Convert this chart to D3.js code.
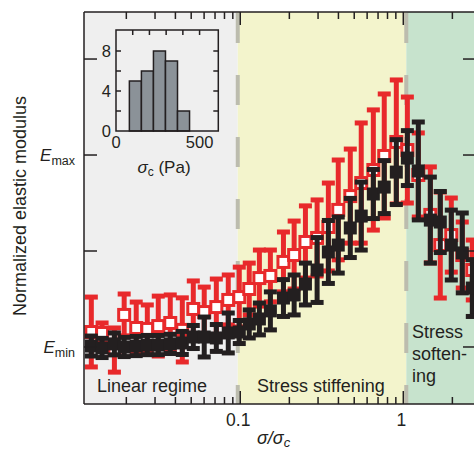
<!DOCTYPE html>
<html>
<head>
<meta charset="utf-8">
<script src="https://cdn.jsdelivr.net/npm/d3@7"></script>
<style>
  body { margin: 0; background: #ffffff; }
  text { font-family: "Liberation Sans", Arial, Helvetica, sans-serif; fill: #231f20; }
</style>
</head>
<body>
<svg id="chart" width="474" height="451"></svg>
<script>
// ---------------------------------------------------------------- data
var ratio = [0.0122, 0.0142, 0.0169, 0.0194, 0.0230, 0.0269, 0.0314, 0.0372, 0.0441, 0.0515, 0.0601, 0.0713,
  0.0844, 0.0986, 0.1135, 0.131, 0.153, 0.184, 0.214, 0.251, 0.296, 0.347, 0.399, 0.473, 0.552, 0.655, 0.764,
  0.906, 1.059, 1.236, 1.465, 1.686, 1.97, 2.30, 2.65];
var redMean = [0.078, 0.073, -0.016, 0.167, 0.099, 0.094, 0.109, 0.125, 0.089, 0.198, 0.182, 0.208, 0.245, 0.260,
  0.302, 0.359, 0.370, 0.443, 0.479, 0.547, 0.568, 0.625, 0.714, 0.786, 0.854, 0.922, 0.995, 1.068, 1.026, 0.896,
  0.688, 0.531, 0.583, 0.479, 0.401];
var redErr = [0.182, 0.052, 0.115, 0.109, 0.135, 0.125, 0.156, 0.146, 0.167, 0.146, 0.130, 0.146, 0.130, 0.156,
  0.135, 0.146, 0.135, 0.156, 0.177, 0.188, 0.198, 0.229, 0.260, 0.245, 0.313, 0.313, 0.323, 0.323, 0.276, 0.219,
  0.250, 0.276, 0.193, 0.172, 0.156];
var blackMean = [0.005, -0.005, 0.016, 0.000, 0.005, 0.010, 0.010, 0.016, 0.021, 0.052, 0.052, 0.047, 0.073, 0.078,
  0.120, 0.146, 0.188, 0.255, 0.271, 0.328, 0.401, 0.495, 0.531, 0.620, 0.682, 0.797, 0.833, 0.911, 0.984, 0.917,
  0.661, 0.651, 0.531, 0.490, 0.307];
var blackErr = [0.052, 0.050, 0.057, 0.050, 0.050, 0.050, 0.050, 0.050, 0.060, 0.060, 0.104, 0.070, 0.104, 0.060,
  0.073, 0.083, 0.099, 0.096, 0.104, 0.109, 0.169, 0.164, 0.146, 0.154, 0.177, 0.128, 0.138, 0.169, 0.143, 0.255,
  0.224, 0.159, 0.182, 0.208, 0.148];
var regionBounds = [0.011, 0.0965, 1.043, 3.5];
var regionColors = ["#efefef", "#f3f4cc", "#c7e3cd"];
var histEdges = [80, 152, 224, 296, 368, 440];
var histCounts = [5, 6, 8, 7, 2];
var yTickValues = [0, 0.5, 1, 1.5];

// ---------------------------------------------------------------- scales
var svg = d3.select("#chart");
var x = d3.scaleLog().domain([0.011, 3.5]).range([84, 492]);
var y = d3.scaleLinear().domain([-0.297, 1.745]).range([404, 12]);
var red = "#e8292b", black = "#231f20";
var rightEdge = 476; // the frame's right side lies just past the picture

// backgrounds of the three regimes
svg.selectAll(".region").data(d3.pairs(regionBounds)).join("rect").attr("class", "region")
  .attr("x", d => x(d[0])).attr("width", d => x(d[1]) - x(d[0]))
  .attr("y", y.range()[1]).attr("height", y.range()[0] - y.range()[1])
  .attr("fill", (d, i) => regionColors[i]);
// dashed dividers
svg.selectAll(".divider").data(regionBounds.slice(1, 3)).join("line").attr("class", "divider")
  .attr("x1", d => x(d)).attr("x2", d => x(d)).attr("y1", 13).attr("y2", 404)
  .attr("stroke", "#bcbcae").attr("stroke-width", 4).attr("stroke-dasharray", "30,32");

// ---------------------------------------------------------------- series
function drawSeries(mean, err, color, cls) {
  var g = svg.append("g").attr("class", cls);
  var pts = ratio.map((r, i) => ({ r: r, m: mean[i], e: err[i] }));
  g.selectAll(".bar").data(pts).join("line").attr("class", "bar")
    .attr("x1", d => x(d.r)).attr("x2", d => x(d.r))
    .attr("y1", d => y(d.m + d.e)).attr("y2", d => y(d.m - d.e))
    .attr("stroke", color).attr("stroke-width", 5);
  g.selectAll(".capTop").data(pts).join("rect").attr("class", "capTop")
    .attr("x", d => x(d.r) - 6.5).attr("width", 13).attr("y", d => y(d.m + d.e) - 2.5).attr("height", 5).attr("fill", color);
  g.selectAll(".capBot").data(pts).join("rect").attr("class", "capBot")
    .attr("x", d => x(d.r) - 6.5).attr("width", 13).attr("y", d => y(d.m - d.e) - 2.5).attr("height", 5).attr("fill", color);
  return { g: g, pts: pts };
}
var rs = drawSeries(redMean, redErr, red, "redSeries");
rs.g.selectAll(".sq").data(rs.pts).join("rect").attr("class", "sq")
  .attr("x", d => x(d.r) - 5.5).attr("y", d => y(d.m) - 5.5).attr("width", 11).attr("height", 11)
  .attr("fill", "#ffffff").attr("stroke", red).attr("stroke-width", 3);
var bs = drawSeries(blackMean, blackErr, black, "blackSeries");
bs.g.selectAll(".sq").data(bs.pts).join("rect").attr("class", "sq")
  .attr("x", d => x(d.r) - 6.5).attr("y", d => y(d.m) - 6.5).attr("width", 13).attr("height", 13).attr("fill", black);

// ---------------------------------------------------------------- frame and ticks
var frame = svg.append("g").attr("stroke", black).attr("stroke-width", 1.5);
frame.append("line").attr("x1", 84).attr("x2", rightEdge).attr("y1", 12).attr("y2", 12);
frame.append("line").attr("x1", 84).attr("x2", rightEdge).attr("y1", 404).attr("y2", 404);
frame.append("line").attr("x1", 84).attr("x2", 84).attr("y1", 12).attr("y2", 404);
var xt = x.ticks().filter(t => t > x.domain()[0] && x(t) < rightEdge);
var isMajor = t => Math.abs(Math.log10(t) - Math.round(Math.log10(t))) < 1e-6;
frame.selectAll(".tt").data(xt).join("line").attr("class", "tt")
  .attr("x1", d => x(d)).attr("x2", d => x(d)).attr("y1", 12).attr("y2", d => isMajor(d) ? 25 : 19);
frame.selectAll(".bt").data(xt).join("line").attr("class", "bt")
  .attr("x1", d => x(d)).attr("x2", d => x(d)).attr("y1", 404).attr("y2", d => isMajor(d) ? 391 : 397);
frame.selectAll(".lt").data(yTickValues).join("line").attr("class", "lt")
  .attr("x1", 84).attr("x2", 97).attr("y1", d => y(d)).attr("y2", d => y(d));
frame.selectAll(".rt").data(yTickValues).join("line").attr("class", "rt")
  .attr("x1", rightEdge).attr("x2", rightEdge - 13).attr("y1", d => y(d)).attr("y2", d => y(d));
svg.selectAll(".xl").data(xt.filter(isMajor)).join("text").attr("class", "xl")
  .attr("x", d => x(d) - 2).attr("y", 426).attr("text-anchor", "middle").attr("font-size", 17.5)
  .text(d => d3.format("~g")(d));

// E labels
[[1, "max"], [0, "min"]].forEach(function (p) {
  var t = svg.append("text").attr("x", 75).attr("y", y(p[0]) + 6).attr("text-anchor", "end").attr("font-size", 17);
  t.append("tspan").attr("font-style", "italic").text("E");
  t.append("tspan").attr("font-size", 12.5).attr("dy", 4).text(p[1]);
});

// axis titles
svg.append("text").attr("transform", "translate(26,206) rotate(-90)").attr("text-anchor", "middle")
  .attr("font-size", 18).text("Normalized elastic modulus");
var xtitle = svg.append("text").attr("x", 257).attr("y", 444).attr("font-size", 18);
xtitle.append("tspan").attr("font-style", "italic").text("σ/σ");
xtitle.append("tspan").attr("font-size", 13).attr("dy", 3).attr("font-style", "italic").text("c");

// regime labels
svg.append("text").attr("x", 97).attr("y", 392).attr("font-size", 18).text("Linear regime");
svg.append("text").attr("x", 257).attr("y", 392).attr("font-size", 18).text("Stress stiffening");
svg.selectAll(".soft").data(["Stress", "soften-", "ing"]).join("text").attr("class", "soft")
  .attr("x", 412).attr("y", (d, i) => 338 + i * 22).attr("font-size", 18).text(d => d);

// ---------------------------------------------------------------- inset histogram
var hx = d3.scaleLinear().domain([0, 612]).range([116, 218.3]);
var hy = d3.scaleLinear().domain([0, 10.1]).range([131, 30]);
var inset = svg.append("g");
inset.append("rect").attr("x", 116).attr("y", 30).attr("width", 102.3).attr("height", 101).attr("fill", "#efefef");
inset.selectAll(".hbar").data(histCounts).join("rect").attr("class", "hbar")
  .attr("x", (d, i) => hx(histEdges[i])).attr("width", (d, i) => hx(histEdges[i + 1]) - hx(histEdges[i]))
  .attr("y", d => hy(d)).attr("height", d => hy(0) - hy(d))
  .attr("fill", "#8b9298").attr("stroke", black).attr("stroke-width", 1.5);
var ib = inset.append("g").attr("stroke", black).attr("stroke-width", 1.5);
ib.append("rect").attr("x", 116).attr("y", 30).attr("width", 102.3).attr("height", 101).attr("fill", "none");
ib.selectAll(".ht").data([100, 200, 300, 400, 500]).join("line").attr("class", "ht")
  .attr("x1", d => hx(d)).attr("x2", d => hx(d)).attr("y1", 30).attr("y2", 35);
ib.selectAll(".hl").data([2, 4, 6, 8]).join("line").attr("class", "hl")
  .attr("x1", 116).attr("x2", 121).attr("y1", d => hy(d)).attr("y2", d => hy(d));
ib.selectAll(".hr").data([2, 4, 6, 8]).join("line").attr("class", "hr")
  .attr("x1", 218.3).attr("x2", 213.3).attr("y1", d => hy(d)).attr("y2", d => hy(d));
inset.selectAll(".hyl").data([0, 4, 8]).join("text").attr("class", "hyl")
  .attr("x", 111).attr("y", d => hy(d) + 6).attr("text-anchor", "end").attr("font-size", 16.5).text(d => d);
inset.selectAll(".hxl").data([0, 500]).join("text").attr("class", "hxl")
  .attr("x", d => hx(d)).attr("y", 148).attr("text-anchor", "middle").attr("font-size", 16.5).text(d => d);
var ht = inset.append("text").attr("x", 164).attr("y", 173).attr("text-anchor", "middle").attr("font-size", 17);
ht.append("tspan").attr("font-style", "italic").text("σ");
ht.append("tspan").attr("font-size", 12).attr("dy", 3).text("c");
ht.append("tspan").attr("dy", -3).text(" (Pa)");
</script>
</body>
</html>
